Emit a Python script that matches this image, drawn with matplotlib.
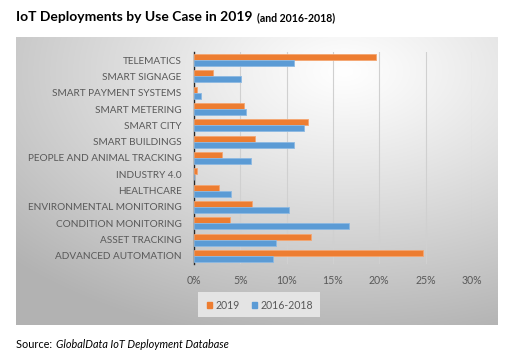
import numpy as np
import matplotlib
matplotlib.use("Agg")
import matplotlib.pyplot as plt
from matplotlib.patches import Rectangle, Patch

categories = ["ADVANCED AUTOMATION", "ASSET TRACKING", "CONDITION MONITORING",
              "ENVIRONMENTAL MONITORING", "HEALTHCARE", "INDUSTRY 4.0",
              "PEOPLE AND ANIMAL TRACKING", "SMART BUILDINGS", "SMART CITY",
              "SMART METERING", "SMART PAYMENT SYSTEMS", "SMART SIGNAGE", "TELEMATICS"]
values_2019 = [24.7, 12.65, 3.9, 6.25, 2.7, 0.3, 3.0, 6.6, 12.3, 5.4, 0.3, 2.1, 19.6]
values_2016_2018 = [8.5, 8.85, 16.7, 10.25, 4.0, 0.0, 6.1, 10.8, 11.9, 5.65, 0.8, 5.07, 10.75]
xticks = [0, 5, 10, 15, 20, 25, 30]
xticklabels = ["0%", "5%", "10%", "15%", "20%", "25%", "30%"]

W, H = 511, 361
fig = plt.figure(figsize=(W/100, H/100), dpi=100)
fig.patch.set_facecolor("white")

def fx(x): return x / W
def fy(y): return 1 - y / H

# gradient background box
bx0, bx1, by0, by1 = 16, 497, 37, 325
bg = fig.add_axes([fx(bx0), fy(by1), fx(bx1 - bx0), (by1 - by0) / H])
bg.set_axis_off()
ny, nx = 200, 340
yy, xx = np.mgrid[0:ny, 0:nx]
cx, cy = nx * 0.68, ny * 0.12
d = np.sqrt(((xx - cx) / nx) ** 2 + ((yy - cy) / ny) ** 2)
val = 1.0 - 0.30 * np.clip(d / 0.95, 0, 1) ** 1.1
img = np.dstack([val, val, val])
bg.imshow(img, aspect="auto", extent=[0, 1, 0, 1], interpolation="bilinear")
bg.set_xlim(0, 1); bg.set_ylim(0, 1)

# main axes
ax = fig.add_axes([fx(194), fy(264), fx(472 - 194), (264 - 52) / H])
ax.patch.set_alpha(0)
y = np.arange(len(categories))
h = 0.37
ax.barh(y + h / 2, values_2019, height=h, color="#ED7D31", edgecolor="#F4A672",
        linewidth=0.6, label="2019", zorder=3)
ax.barh(y - h / 2, values_2016_2018, height=h, color="#5B9BD5", edgecolor="#8DB9E2",
        linewidth=0.6, label="2016-2018", zorder=3)
ax.set_xlim(0, 30)
ax.set_ylim(-0.5, len(categories) - 0.5)
ax.set_xticks(xticks)
ax.set_xticklabels(xticklabels)
ax.set_yticks(y)
ax.set_yticklabels(categories)
ax.grid(axis="x", color="#d0d0d0", linewidth=0.8, zorder=0)
for s in ["top", "right", "bottom"]:
    ax.spines[s].set_visible(False)
ax.spines["left"].set_color("#262626")
ax.spines["left"].set_linewidth(1.0)
ax.tick_params(axis="both", length=0, labelcolor="#595959")
ax.tick_params(axis="y", pad=9, labelsize=7.2)
ax.tick_params(axis="x", pad=8, labelsize=7.6)
for t in ax.get_xticklabels() + ax.get_yticklabels():
    t.set_fontfamily("Lato")

# legend
leg_bg = Rectangle((fx(198), fy(317)), fx(122), (317 - 292) / H, transform=fig.transFigure,
                   facecolor="#e4e4e4", edgecolor="none", zorder=1)
fig.add_artist(leg_bg)
handles = [Patch(color="#ED7D31"), Patch(color="#5B9BD5")]
leg = fig.legend(handles, ["2019", "2016-2018"], loc="center",
                 bbox_to_anchor=(fx(260), fy(305.5)), ncol=2, frameon=False,
                 handlelength=0.5, handleheight=0.5, handletextpad=0.35,
                 columnspacing=1.1, prop={"family": "Lato", "size": 7.6})
for t in leg.get_texts():
    t.set_color("#595959")

# title
t1 = fig.text(fx(16), fy(17), "IoT Deployments by Use Case in 2019", fontsize=10,
              fontweight="bold", family="Lato", va="center", ha="left", color="black")
fig.canvas.draw()
bb = t1.get_window_extent()
fig.text((bb.x1 + 4) / W, fy(17.5), "(and 2016-2018)", fontsize=7.6,
         fontweight="bold", family="Lato", va="center", ha="left", color="black")

# source
s1 = fig.text(fx(16), fy(345), "Source: ", fontsize=7.8, family="Lato", va="center", ha="left")
fig.canvas.draw()
sb = s1.get_window_extent()
fig.text((sb.x1 + 1) / W, fy(345), "GlobalData IoT Deployment Database", fontsize=7.8,
         family="Lato", style="italic", va="center", ha="left")

fig.savefig("out.png", dpi=100)
